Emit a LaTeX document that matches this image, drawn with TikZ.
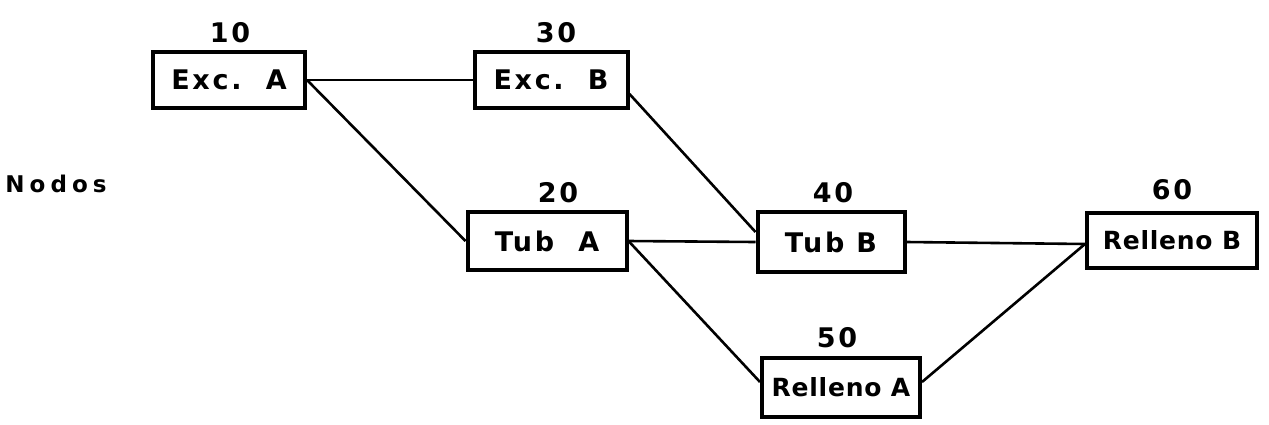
\documentclass[tikz,border=0pt]{standalone}
\usepackage{fontspec}
\usetikzlibrary{calc}
\newfontfamily\lett[LetterSpace=10]{DejaVu Sans Bold}
\newfontfamily\lettplain[LetterSpace=3]{DejaVu Sans Bold}
\newfontfamily\lettwide[LetterSpace=22]{DejaVu Sans Bold}
\begin{document}
\begin{tikzpicture}[x=1pt,y=-1pt,
  nodebox/.style={draw,line width=4pt,rectangle,inner sep=0pt,font=\lett\fontsize{27}{29}\selectfont},
  narrowtext/.style={font=\lettplain\fontsize{25}{28}\selectfont},
  numlab/.style={font=\lett\fontsize{27}{29}\selectfont,inner sep=0pt},
  conn/.style={line width=2.6pt}]
\useasboundingbox (0,0) rectangle (1269,424);
\node[nodebox,minimum width=152pt,minimum height=56pt] (ea) at (229,80) {Exc.\ \ A};
\node[nodebox,minimum width=153pt,minimum height=56pt] (eb) at (551,80) {Exc.\ \ B};
\node[nodebox,minimum width=159pt,minimum height=58pt] (ta) at (547,241) {Tub\ \ A};
\node[nodebox,minimum width=147pt,minimum height=60pt] (tb) at (831,242) {Tub B};
\node[nodebox,narrowtext,minimum width=158pt,minimum height=59pt] (ra) at (841,387) {Relleno A};
\node[nodebox,narrowtext,minimum width=170pt,minimum height=55pt] (rb) at (1172,240) {Relleno B};
\node[numlab] (n10) at (230,33) {10};
\node[numlab] (n30) at (556,33) {30};
\node[numlab] (n20) at (558,193) {20};
\node[numlab] (n40) at (833,193) {40};
\node[numlab] (n50) at (837,338) {50};
\node[numlab] (n60) at (1172,190) {60};
\node[numlab,font=\lettwide\fontsize{23}{26}\selectfont] (nodos) at (56,184) {Nodos};
\draw[conn] (ea.east) -- (eb.west);
\draw[conn] (ea.east) -- (ta.west);
\draw[conn] ($(eb.east)+(0,14)$) -- ($(tb.west)+(0,-10)$);
\draw[conn] (ta.east) -- (tb.west);
\draw[conn] (ta.east) -- ($(ra.west)+(0,-5)$);
\draw[conn] (tb.east) -- ($(rb.west)+(0,4)$);
\draw[conn] ($(ra.east)+(0,-5)$) -- ($(rb.west)+(0,4)$);
\end{tikzpicture}
\end{document}
